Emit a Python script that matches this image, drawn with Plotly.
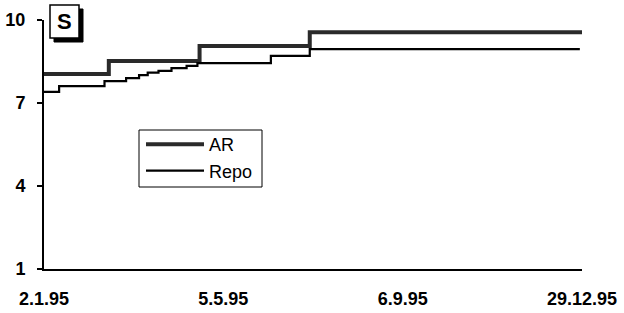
import plotly.graph_objects as go

# x positions are trading-day indices; ticks labelled with dates
tick_idx = [0, 83, 166, 249]
tick_labels = ["2.1.95", "5.5.95", "6.9.95", "29.12.95"]
n_end = 249

# step change points
ar_idx = [0, 30, 72, 123]
ar_val = [8.05, 8.52, 9.06, 9.56]
repo_idx = [0, 7, 28, 38, 44, 48, 53, 59, 66, 71, 105, 123]
repo_val = [7.40, 7.61, 7.79, 7.90, 8.01, 8.10, 8.16, 8.26, 8.34, 8.44, 8.70, 8.95]

fig = go.Figure()
fig.add_trace(go.Scatter(x=ar_idx + [n_end], y=ar_val + [ar_val[-1]], mode="lines",
                         line=dict(color="#2a2a2a", width=4, shape="hv"), name="AR"))
fig.add_trace(go.Scatter(x=repo_idx + [n_end - 1], y=repo_val + [repo_val[-1]], mode="lines",
                         line=dict(color="black", width=2.2, shape="hv"), name="Repo"))

W, H = 624, 313
# plot area in page pixels: x 44..582, y 20..269
L, T = 44, 20
R = W - 582
B = H - 269
pw, ph = W - L - R, H - T - B

def px(x):
    return (x - L) / pw

def py(y):
    return 1 - (y - T) / ph

# "S" badge with drop shadow
fig.add_shape(type="rect", xref="paper", yref="paper",
              x0=px(54), x1=px(83), y0=py(42), y1=py(9),
              fillcolor="black", line=dict(color="black", width=1))
fig.add_shape(type="rect", xref="paper", yref="paper",
              x0=px(50), x1=px(79), y0=py(38), y1=py(5),
              fillcolor="white", line=dict(color="black", width=1.5))
fig.add_annotation(xref="paper", yref="paper", x=px(64.5), y=py(21.5), text="<b>S</b>",
                   showarrow=False, font=dict(family="Liberation Sans, Arial", size=22, color="black"),
                   xanchor="center", yanchor="middle")

# legend frame
fig.add_shape(type="rect", xref="paper", yref="paper",
              x0=px(139), x1=px(262), y0=py(187), y1=py(130),
              fillcolor="white", line=dict(color="black", width=1), layer="below")

fig.update_layout(
    width=W, height=H,
    margin=dict(l=L, r=R, t=T, b=B, autoexpand=False),
    paper_bgcolor="white", plot_bgcolor="white",
    font=dict(family="Liberation Sans, Arial", color="black"),
    legend=dict(x=px(141), y=py(126), xanchor="left", yanchor="top",
                bgcolor="rgba(0,0,0,0)", borderwidth=0,
                font=dict(size=18), itemwidth=58, tracegroupgap=0),
    showlegend=True,
)
fig.update_xaxes(range=[0, n_end], tickvals=tick_idx,
                 ticktext=["<b>%s</b>" % t for t in tick_labels], automargin=False,
                 showgrid=False, zeroline=False, showline=True, linecolor="black", linewidth=2,
                 ticks="", tickfont=dict(size=18, family="Liberation Sans, Arial"),
                 ticklabelstandoff=12)
fig.update_yaxes(range=[1, 10], tickvals=[1, 4, 7, 10],
                 ticktext=["<b>1</b>", "<b>4</b>", "<b>7</b>", "<b>10</b>"], automargin=False,
                 showgrid=False, zeroline=False, showline=True, linecolor="black", linewidth=2,
                 ticks="outside", ticklen=5, tickwidth=1.5, tickcolor="black",
                 tickfont=dict(size=18, family="Liberation Sans, Arial"), ticklabelstandoff=8)

fig.write_html("out.html", config={"displayModeBar": False},
               post_script="document.body.style.margin='0';document.body.style.overflow='hidden';")
